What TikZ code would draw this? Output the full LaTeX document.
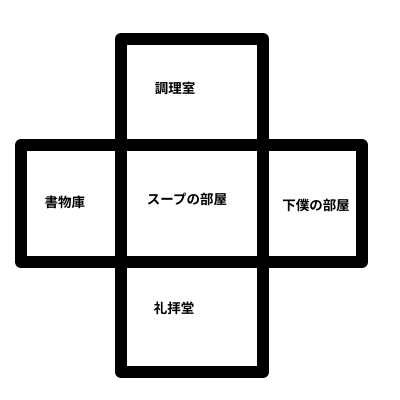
\documentclass[tikz,border=0pt]{standalone}
\usepackage{fontspec}
\newfontfamily\jp{Noto Sans CJK JP Bold}
\begin{document}
\begin{tikzpicture}[x=1pt,y=-1pt,
  room/.style={draw=black,line width=12pt,line join=round,rectangle,inner sep=0pt,outer sep=0pt},
  lbl/.style={font=\jp\fontsize{13.5}{14}\selectfont,inner sep=0pt}]
\useasboundingbox[fill=white] (0,0) rectangle (400,400);
\node[room,minimum width=142pt,minimum height=106pt] (kitchen) at (192,92) {};
\node[room,minimum width=100pt,minimum height=117pt] (library) at (71,203.5) {};
\node[room,minimum width=142pt,minimum height=117pt] (soup) at (192,203.5) {};
\node[room,minimum width=99pt,minimum height=117pt] (servant) at (312.5,203.5) {};
\node[room,minimum width=142pt,minimum height=110pt] (chapel) at (192,317) {};
\node[lbl] (tkitchen) at (175,88) {調理室};
\node[lbl] (tlibrary) at (65,202) {書物庫};
\node[lbl] (tsoup) at (187,199) {スープの部屋};
\node[lbl] (tservant) at (316,205) {下僕の部屋};
\node[lbl] (tchapel) at (174,308) {礼拝堂};
\end{tikzpicture}
\end{document}
